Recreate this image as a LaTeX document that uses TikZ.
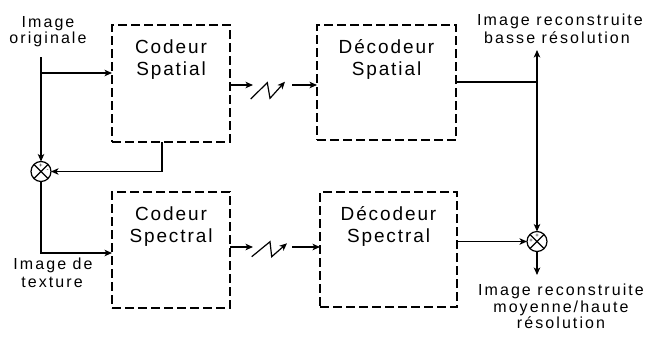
\documentclass[tikz,border=0pt]{standalone}
\usepackage{fontspec}
\setmainfont{Liberation Sans}
\newfontfamily\boxfont[LetterSpace=10]{Liberation Sans}
\newfontfamily\lblfont[LetterSpace=13]{Liberation Sans}
\usetikzlibrary{arrows.meta,calc}
\begin{document}
\begin{tikzpicture}[x=1pt,y=-1pt,
  conn/.style={line width=1.2pt},
  arr/.style={conn,-{Stealth[length=7.5pt,width=6.5pt,inset=2pt]}},
  blk/.style={draw,line width=2pt,dash pattern=on 9pt off 4pt,inner sep=0pt,outer sep=0pt},
  btxt/.style={anchor=base,inner sep=0pt,font=\boxfont\fontsize{19}{22}\selectfont},
  ltxt/.style={anchor=base,inner sep=0pt,font=\lblfont\fontsize{16}{18}\selectfont},
  sum/.style={circle,draw,line width=1.2pt,minimum size=20pt,inner sep=0pt,outer sep=0pt},
  sgn/.style={inner sep=0pt,font=\fontsize{6}{6}\selectfont}]
\useasboundingbox (0,0) rectangle (647,338);

% blocks
\node[blk,minimum width=118pt,minimum height=117pt] (cs) at (171,83.5) {};
\node[blk,minimum width=139pt,minimum height=115pt] (ds) at (386.5,82.5) {};
\node[blk,minimum width=118pt,minimum height=116pt] (cp) at (171,250) {};
\node[blk,minimum width=137pt,minimum height=115pt] (dp) at (388.5,249.5) {};

\node[btxt] (cs1) at (171,53) {Codeur};
\node[btxt] (cs2) at (171,75) {Spatial};
\node[btxt] (ds1) at (386.5,53) {Décodeur};
\node[btxt] (ds2) at (386.5,75) {Spatial};
\node[btxt] (cp1) at (171,220) {Codeur};
\node[btxt] (cp2) at (171,242) {Spectral};
\node[btxt] (dp1) at (388.5,220) {Décodeur};
\node[btxt] (dp2) at (388.5,242) {Spectral};

% labels
\node[ltxt] (lo1) at (48,27) {Image};
\node[ltxt] (lo2) at (48,43) {originale};
\node[ltxt] (lt1) at (53,269) {Image de};
\node[ltxt] (lt2) at (52,287) {texture};
\node[ltxt] (lb1) at (560,25) {Image reconstruite};
\node[ltxt] (lb2) at (557,43) {basse résolution};
\node[ltxt] (lm1) at (561,295) {Image reconstruite};
\node[ltxt] (lm2) at (561,312) {moyenne/haute};
\node[ltxt] (lm3) at (561,328) {résolution};

% summing junctions
\node[sum] (c1) at (41,171.5) {};
\node[sum] (c2) at (537,241.5) {};
\draw[conn] (c1.45) -- (c1.225) (c1.135) -- (c1.315);
\draw[conn] (c2.45) -- (c2.225) (c2.135) -- (c2.315);
\node[sgn] (s1) at (41,165.5) {+};
\node[sgn] (s2) at (47.5,171) {-};
\node[sgn] (s3) at (537,235.5) {+};
\node[sgn] (s4) at (531,241) {+};

% left side connectors
\coordinate (in) at (41,57);
\coordinate (j1) at (41,73);
\coordinate (j3) at (41,253);
\draw[arr] (in) -- (c1.north);
\draw[arr] (j1) -- (j1 -| cs.west);
\draw[arr] ($(cs.south)+(-9,0)$) |- (c1.east);
\draw[arr] (c1.south) -- (j3) -- (j3 -| cp.west);

% top channel
\coordinate (ch1) at (253,85);
\coordinate (ch1b) at (292,85);
\draw[arr] (cs.east |- ch1) -- (ch1);
\draw[arr] (250.7,99) -- (267.3,82.7) -- (270,98.3) -- (285,81.7);
\draw[arr] (ch1b) -- (ch1b -| ds.west);

% bottom channel
\coordinate (ch2) at (253,247);
\coordinate (ch2b) at (292,247);
\draw[arr] (cp.east |- ch2) -- (ch2);
\draw[arr] (251.7,256.7) -- (270,241.7) -- (271.7,256.7) -- (287,243.3);
\draw[arr] (ch2b) -- (ch2b -| dp.west);

% right side
\coordinate (j2) at (537,82);
\coordinate (o1) at (537,50);
\coordinate (o2) at (537,275);
\draw[conn] (ds.east |- j2) -- (j2);
\draw[arr] (j2) -- (o1);
\draw[arr] (j2) -- (c2.north);
\draw[arr] (dp.east |- c2) -- (c2.west);
\draw[arr] (c2.south) -- (o2);
\end{tikzpicture}
\end{document}
